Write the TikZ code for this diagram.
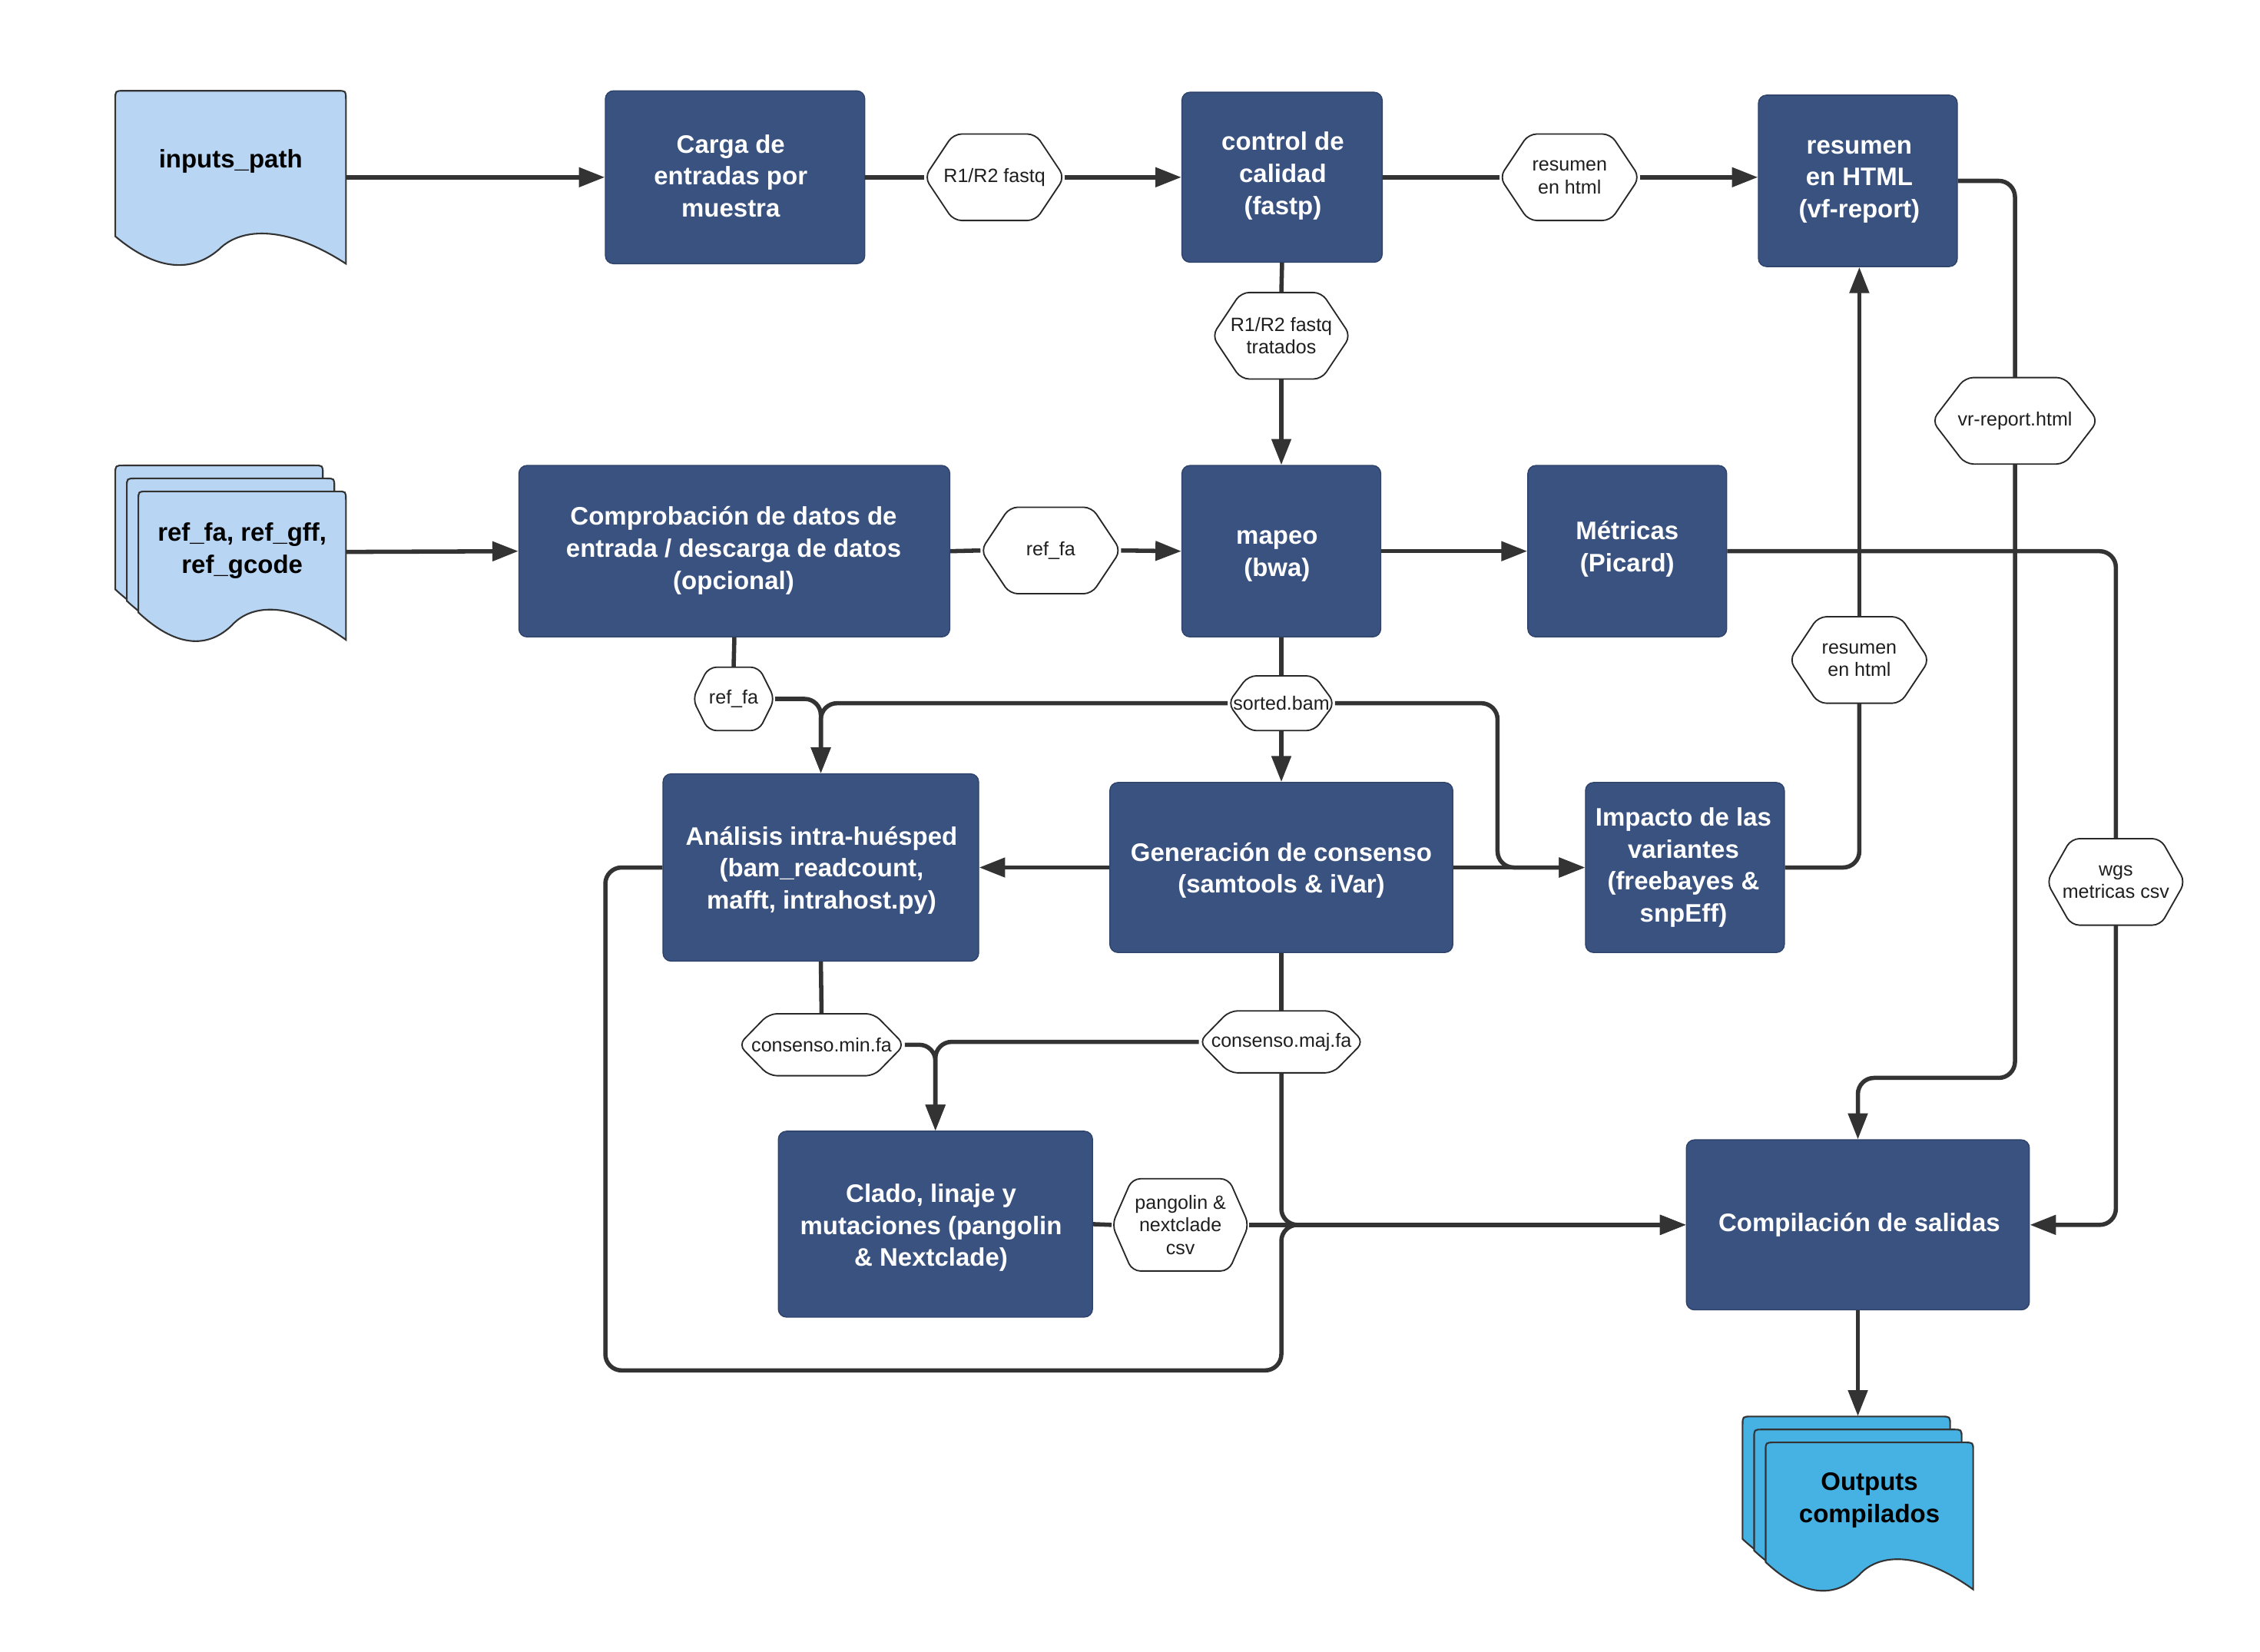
\documentclass[tikz,border=0pt]{standalone}
\usepackage{fontspec}
\setmainfont{Liberation Sans}
\usetikzlibrary{arrows.meta,fit,calc}
\definecolor{navy}{RGB}{58,82,128}
\definecolor{navyedge}{RGB}{45,65,105}
\definecolor{lightdoc}{RGB}{184,214,243}
\definecolor{outdoc}{RGB}{70,177,227}
\definecolor{conncol}{RGB}{51,51,51}
\definecolor{hexedge}{RGB}{40,40,40}

\tikzset{
 box/.style={rectangle, rounded corners=4pt, fill=navy, draw=navyedge, line width=0.5pt, inner sep=0pt},
 boxtext/.style={text=white, align=center, inner sep=0pt, font=\fontsize{12.5}{15.8}\selectfont\bfseries},
 ghost/.style={rectangle, inner sep=0pt, draw=none},
 doctext/.style={align=center, text=black, font=\fontsize{12.5}{15.8}\selectfont\bfseries},
 hextext/.style={rectangle, draw=none, inner sep=0pt, align=center, text=black!88, font=\fontsize{9.5}{11.2}\selectfont},
 hexshape/.style={draw=hexedge, fill=white, line width=0.7pt, rounded corners=4pt},
 docline/.style={draw=black!80, line width=0.8pt},
 conn/.style={draw=conncol, line width=2.1pt, rounded corners=8pt},
 arr/.style={-{Triangle[length=0.45cm,width=0.33cm]}},
}

% name, cx, cy, w, h, inset, text
\newcommand\hexnode[7]{%
  \filldraw[hexshape] ({#2},{#3-#5/2}) -- ({#2+#4/2-#6},{#3-#5/2}) -- ({#2+#4/2},{#3}) -- ({#2+#4/2-#6},{#3+#5/2}) -- ({#2-#4/2+#6},{#3+#5/2}) -- ({#2-#4/2},{#3}) -- ({#2-#4/2+#6},{#3-#5/2}) -- cycle;
  \node[hextext, minimum width={#4*0.025cm}, minimum height={#5*0.025cm}] (#1) at ({#2},{#3}) {#7};
}
% L T R B fill
\newcommand\docshape[5]{%
  \filldraw[docline, fill=#5] ({#1},{#4-19}) -- ({#1},{#2+6}) .. controls ({#1},{#2}) .. ({#1+6},{#2}) -- ({#3-6},{#2}) .. controls ({#3},{#2}) .. ({#3},{#2+6}) -- ({#3},{#4})
   .. controls ({#1+0.75*(#3-#1)},{#4-26}) and ({#1+0.55*(#3-#1)},{#4-26}) .. ({#1+0.45*(#3-#1)},{#4-10})
   .. controls ({#1+0.35*(#3-#1)},{#4+4}) and ({#1+0.2*(#3-#1)},{#4+8}) .. ({#1},{#4-19}) -- cycle;
}

\begin{document}
\begin{tikzpicture}[x=0.025cm, y=-0.025cm]
\fill[white] (0,0) rectangle (1568,1146);
\useasboundingbox (0,0) rectangle (1568,1146);

% documents
\docshape{80}{63}{240}{183}{lightdoc}
\node[ghost, fit={(80,63) (240,183)}] (inputs) {};
\node[doctext] (inputsT) at (160,112) {inputs\_path};

\docshape{80}{323}{224}{428}{lightdoc}
\docshape{88}{332}{232}{436}{lightdoc}
\docshape{96}{341}{240}{444}{lightdoc}
\node[ghost, fit={(80,323) (240,443)}] (refs) {};
\node[doctext] (refsT) at (168,382) {ref\_fa, ref\_gff,\\ref\_gcode};

\docshape{1209}{983}{1353}{1087}{outdoc}
\docshape{1217}{992}{1361}{1095}{outdoc}
\docshape{1225}{1001}{1369}{1103}{outdoc}
\node[ghost, fit={(1209,983) (1369,1103)}] (outputs) {};
\node[doctext] (outputsT) at (1297,1041) {Outputs\\compilados};

% process boxes
\node[box, fit={(420,63) (600,183)}] (carga) {};
\node[boxtext] (cargaT) at (507,122) {Carga de\\entradas por\\muestra};
\node[box, fit={(820,64) (959,182)}] (control) {};
\node[boxtext] (controlT) at (890,122) {control de\\calidad\\(fastp)};
\node[box, fit={(1220,66) (1358,185)}] (resumen) {};
\node[boxtext] (resumenT) at (1290,126) {resumen\\en HTML\\(vf-report)};
\node[box, fit={(360,323) (659,442)}] (comprob) {};
\node[boxtext] (comprobT) at (509,382) {Comprobación de datos de\\entrada / descarga de datos\\(opcional)};
\node[box, fit={(820,323) (958,442)}] (mapeo) {};
\node[boxtext] (mapeoT) at (886,386) {mapeo\\(bwa)};
\node[box, fit={(1060,323) (1198,442)}] (metricas) {};
\node[boxtext] (metricasT) at (1129,381) {Métricas\\(Picard)};
\node[box, fit={(460,537) (679,667)}] (analisis) {};
\node[boxtext] (analisisT) at (570,604) {Análisis intra-huésped\\(bam\_readcount,\\mafft, intrahost.py)};
\node[box, fit={(770,543) (1008,661)}] (generacion) {};
\node[boxtext] (generacionT) at (889,604) {Generación de consenso\\(samtools \& iVar)};
\node[box, fit={(1100,543) (1238,661)}] (impacto) {};
\node[boxtext] (impactoT) at (1168,602) {Impacto de las\\variantes\\(freebayes \&\\snpEff)};
\node[box, fit={(540,785) (758,914)}] (clado) {};
\node[boxtext] (cladoT) at (646,852) {Clado, linaje y\\mutaciones (pangolin\\\& Nextclade)};
\node[box, fit={(1170,791) (1408,909)}] (compil) {};
\node[boxtext] (compilT) at (1290,850) {Compilación de salidas};

% hexagon labels
\hexnode{h1}{690}{123}{97}{60}{20}{R1/R2 fastq}
\hexnode{h2}{1089}{123}{97}{60}{20}{resumen\\en html}
\hexnode{h3}{889}{233}{96}{60}{20}{R1/R2 fastq\\tratados}
\hexnode{h4}{729}{382}{97}{60}{20}{ref\_fa}
\hexnode{h5}{509}{485}{57}{44}{11}{ref\_fa}
\hexnode{h6}{889}{488}{74}{38}{14}{sorted.bam}
\hexnode{h7}{1290}{458}{97}{60}{20}{resumen\\en html}
\hexnode{h8}{1398}{292}{115}{60}{23}{vr-report.html}
\hexnode{h9}{1468}{612}{96}{60}{17}{wgs\\metricas csv}
\hexnode{h10}{570}{725}{115}{43}{21}{consenso.min.fa}
\hexnode{h11}{889}{723}{114}{43}{21}{consenso.maj.fa}
\hexnode{h12}{819}{850}{95}{64}{14}{pangolin \&\\nextclade\\csv}

\coordinate (sbturn) at (1039,488);
\coordinate (vrturn) at (1398,748);
\coordinate (loopL) at (420,951);
\coordinate (loopR) at (889,951);

% connectors
\draw[conn,arr] (inputs.east) -- (carga.west);
\draw[conn] (carga.east) -- (h1.west);
\draw[conn,arr] (h1.east) -- (control.west);
\draw[conn] (control.east) -- (h2.west);
\draw[conn,arr] (h2.east) -- (h2.east -| resumen.west);
\draw[conn] (control.south) -- (h3.north);
\draw[conn,arr] (h3.south) -- (mapeo.north);
\draw[conn,arr] (refs.east) -- (comprob.west);
\draw[conn] (comprob.east) -- (h4.west);
\draw[conn,arr] (h4.east) -- (mapeo.west);
\draw[conn,arr] (mapeo.east) -- (metricas.west);
\draw[conn] (metricas.east) -| (h9.north);
\draw[conn,arr] (h9.south) |- (compil.east);
\draw[conn] (resumen.east) -| (h8.north);
\draw[conn,arr] (h8.south) -- (vrturn) -| (compil.north);
\draw[conn] (impacto.east) -| (h7.south);
\draw[conn,arr] (h7.north) -- (h7.north |- resumen.south);
\draw[conn] (comprob.south) -- (h5.north);
\draw[conn,arr] (h5.east) -| (analisis.north);
\draw[conn,arr] (h6.west) -| (analisis.north);
\draw[conn] (mapeo.south) -- (h6.north);
\draw[conn,arr] (h6.south) -- (generacion.north);
\draw[conn,arr] (h6.east) -- (sbturn) |- (impacto.west);
\draw[conn,arr] (generacion.east) -- (impacto.west);
\draw[conn,arr] (generacion.west) -- (analisis.east);
\draw[conn] (analisis.south) -- (h10.north);
\draw[conn,arr] (h10.east) -| (clado.north);
\draw[conn,arr] (h11.west) -| (clado.north);
\draw[conn] (generacion.south) -- (h11.north);
\draw[conn,arr] (h11.south) |- (compil.west);
\draw[conn,arr] (analisis.west) -| (loopL) -- (loopR) |- (compil.west);
\draw[conn] (clado.east) -- (h12.west);
\draw[conn,arr] (h12.east) -- (compil.west);
\draw[conn,arr] (compil.south) -- (compil.south |- outputs.north);
\end{tikzpicture}
\end{document}
